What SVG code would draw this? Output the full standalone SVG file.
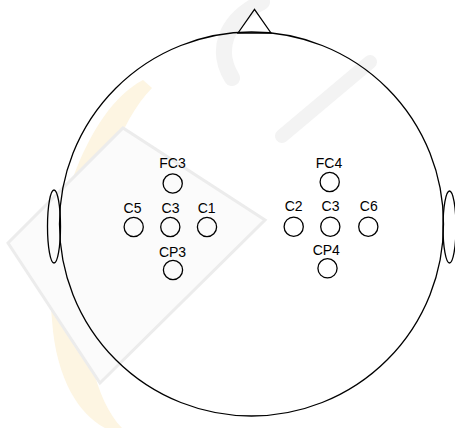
<svg xmlns="http://www.w3.org/2000/svg" width="455" height="430" viewBox="0 0 455 430">
<style>
.ln{fill:none;stroke:#000;stroke-width:1.3}
.el{fill:none;stroke:#000;stroke-width:1.3}
.lb{font-family:"Liberation Sans",Arial,sans-serif;font-size:14px;fill:#000;text-anchor:middle}
</style>
<rect width="455" height="430" fill="#fff"/>
<g id="watermark">
<path d="M143,80 C85,110 45,230 52,320 C56,380 80,415 105,428 L122,428 C95,400 82,340 88,280 C95,190 120,120 152,88 Z" fill="#fdf5e2"/>
<path d="M8,243 L123,128 L265,220 L100,383 Z" fill="#fbfbfb" stroke="#ececec" stroke-width="3"/>
<path d="M232,78 C215,50 225,20 262,2" fill="none" stroke="#f3f3f3" stroke-width="16" stroke-linecap="round"/>
<path d="M282,136 L370,62" fill="none" stroke="#f3f3f3" stroke-width="14" stroke-linecap="round"/>
</g>
<g id="head">
<circle class="ln" cx="251.5" cy="224" r="192"/>
</g>
<g id="nose">
<path class="ln" d="M238,33 L254.5,9.5 L271,33 Z" fill="#fff"/>
</g>
<g id="ear-left">
<ellipse class="ln" cx="54" cy="226.5" rx="6.5" ry="36.5"/>
</g>
<g id="ear-right">
<ellipse class="ln" cx="449.5" cy="227" rx="6.5" ry="36"/>
</g>
<g id="FC3"><text class="lb" x="172.5" y="168">FC3</text><circle class="el" cx="172.7" cy="183.5" r="9.6"/></g>
<g id="C5"><text class="lb" x="132.5" y="212.5">C5</text><circle class="el" cx="133.7" cy="227" r="9.6"/></g>
<g id="C3-left"><text class="lb" x="170.5" y="212.5">C3</text><circle class="el" cx="170.3" cy="227" r="9.6"/></g>
<g id="C1"><text class="lb" x="206.7" y="212.5">C1</text><circle class="el" cx="207" cy="227" r="9.6"/></g>
<g id="CP3"><text class="lb" x="172.5" y="256.7">CP3</text><circle class="el" cx="173" cy="270" r="9.6"/></g>
<g id="FC4"><text class="lb" x="329" y="167.5">FC4</text><circle class="el" cx="329.7" cy="182" r="9.6"/></g>
<g id="C2"><text class="lb" x="293.7" y="210.5">C2</text><circle class="el" cx="293.7" cy="226.7" r="9.6"/></g>
<g id="C3-right"><text class="lb" x="330.5" y="210.5">C3</text><circle class="el" cx="330.3" cy="226.7" r="9.6"/></g>
<g id="C6"><text class="lb" x="368.8" y="210.5">C6</text><circle class="el" cx="368.3" cy="226.7" r="9.6"/></g>
<g id="CP4"><text class="lb" x="326.3" y="255">CP4</text><circle class="el" cx="327.5" cy="268.3" r="9.6"/></g>
<g id="connectors"></g>
</svg>
